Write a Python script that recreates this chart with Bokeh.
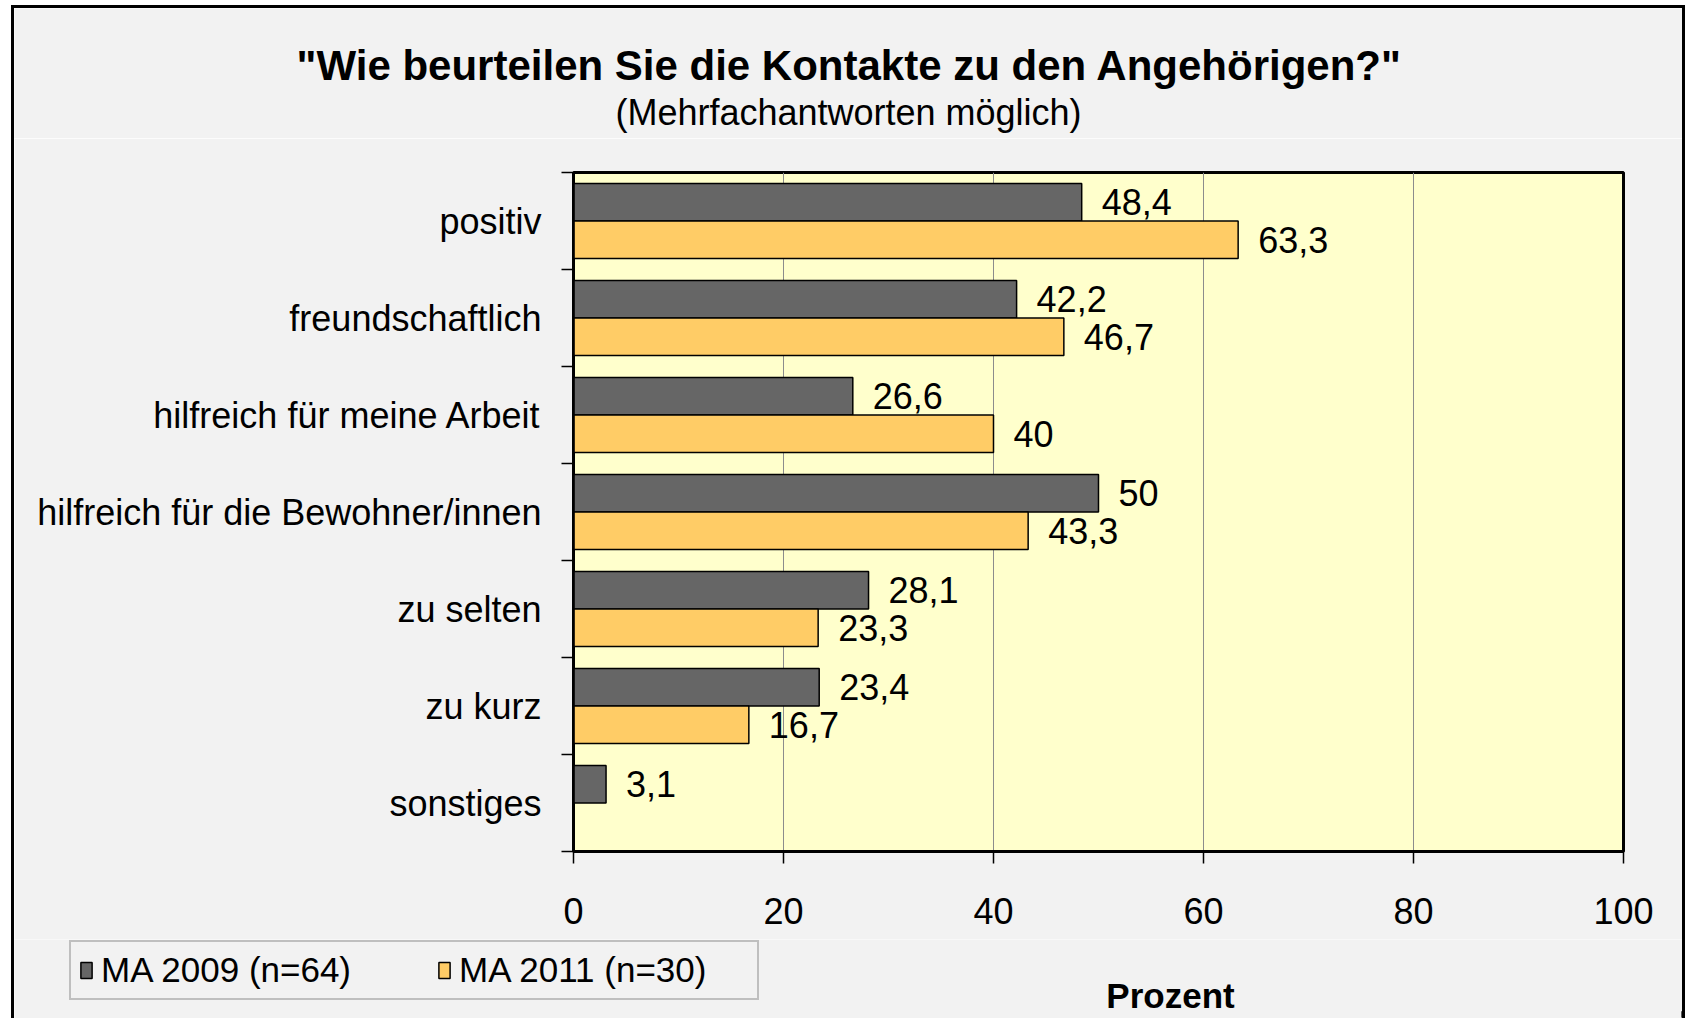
from bokeh.plotting import figure
from bokeh.layouts import column
from bokeh.models import (Range1d, LinearAxis, FixedTicker, Label, Plot,
                          ColumnDataSource, Legend, LegendItem)
from bokeh.transform import dodge
from bokeh.core.properties import value
from bokeh.embed import file_html
from bokeh.resources import INLINE

FONT = "Liberation Sans"

title_text = "\"Wie beurteilen Sie die Kontakte zu den Angehörigen?\""
subtitle_text = "(Mehrfachantworten möglich)"
x_title = "Prozent"
categories = ["positiv", "freundschaftlich", "hilfreich für meine Arbeit",
              "hilfreich für die Bewohner/innen", "zu selten", "zu kurz", "sonstiges"]
ma2009 = [48.4, 42.2, 26.6, 50, 28.1, 23.4, 3.1]
ma2011 = [63.3, 46.7, 40, 43.3, 23.3, 16.7, None]
x_ticks = [0, 20, 40, 60, 80, 100]
series_names = ["MA 2009 (n=64)", "MA 2011 (n=30)"]
series_colors = ["#666666", "#FFCC66"]

n = len(categories)
centres = [n - i - 0.5 for i in range(n)]   # slot centres, top to bottom


def fmt(v):
    return ("%g" % v).replace(".", ",")


src09 = ColumnDataSource(dict(pos=centres, v=ma2009, t=[fmt(v) for v in ma2009]))
p11 = [c for c, v in zip(centres, ma2011) if v is not None]
v11 = [v for v in ma2011 if v is not None]
src11 = ColumnDataSource(dict(pos=p11, v=v11, t=[fmt(v) for v in v11]))

W = 1668
HT, HP, HQ = 130, 801, 79
HAS_FA = "frame_align" in Plot.properties()


def strip(h):
    f = figure(width=W, height=h, x_range=Range1d(0, W), y_range=Range1d(0, h),
               output_backend="svg", toolbar_location=None,
               x_axis_location=None, y_axis_location=None,
               min_border_left=0, min_border_right=0, min_border_top=0, min_border_bottom=0,
               background_fill_color="#F2F2F2", border_fill_color="#F2F2F2",
               outline_line_color=None)
    f.xgrid.visible = False
    f.ygrid.visible = False
    if HAS_FA:
        f.frame_align = False
    return f


# ---- title strip ----
t = strip(HT)
t.add_layout(Label(x=835, y=73, text=title_text, text_align="center", text_baseline="middle",
                   text_font=FONT, text_font_size="42px", text_font_style="bold",
                   text_color="black"))
t.add_layout(Label(x=834, y=26, text=subtitle_text, text_align="center", text_baseline="middle",
                   text_font=FONT, text_font_size="36px", text_color="black"))

# ---- main chart ----
p = figure(width=W, height=HP,
           y_range=Range1d(0, n), x_range=Range1d(0, 100),
           output_backend="svg", toolbar_location=None, y_axis_location=None,
           min_border_left=559, min_border_right=59, min_border_top=34, min_border_bottom=88,
           background_fill_color="#FFFFCC", border_fill_color="#F2F2F2",
           outline_line_color="black", outline_line_width=3)
if HAS_FA:
    p.frame_align = False

tick_axis = LinearAxis(ticker=FixedTicker(ticks=list(range(n + 1))),
                       major_label_text_font_size="0px",
                       major_label_overrides={i: "" for i in range(n + 1)},
                       major_tick_out=12, major_tick_in=0, major_tick_line_width=1.5,
                       minor_tick_line_color=None, axis_line_width=2.5, axis_line_color="black",
                       major_label_standoff=0)
p.add_layout(tick_axis, "left")

label_axis = LinearAxis(ticker=FixedTicker(ticks=centres),
                        major_label_overrides={c: cat for c, cat in zip(centres, categories)},
                        major_tick_line_color=None, minor_tick_line_color=None,
                        axis_line_color=None,
                        major_label_text_font=FONT, major_label_text_font_size="36px",
                        major_label_text_color="black", major_label_standoff=14)
p.add_layout(label_axis, "left")

xa = p.xaxis[0]
xa.ticker = FixedTicker(ticks=x_ticks)
xa.major_tick_out = 12
xa.major_tick_in = 0
xa.major_tick_line_width = 1.5
xa.minor_tick_line_color = None
xa.axis_line_width = 3
xa.major_label_standoff = 34
xa.major_label_text_font = FONT
xa.major_label_text_font_size = "36px"
xa.major_label_text_color = "black"

p.xgrid.grid_line_color = "#8c8c8c"
p.xgrid.grid_line_width = 1
p.xgrid.ticker = FixedTicker(ticks=x_ticks)
p.ygrid.grid_line_color = None

bh = 0.386
p.hbar(y=dodge("pos", bh / 2), right="v", left=0, height=bh, source=src09,
       fill_color=series_colors[0], line_color="black", line_width=1.5)
p.hbar(y=dodge("pos", -bh / 2), right="v", left=0, height=bh, source=src11,
       fill_color=series_colors[1], line_color="black", line_width=1.5)

p.text(x="v", y=dodge("pos", bh / 2), text="t", source=src09, x_offset=20,
       text_baseline="middle", text_align="left", text_font=value(FONT),
       text_font_size=value("36px"), text_color="black")
p.text(x="v", y=dodge("pos", -bh / 2), text="t", source=src11, x_offset=20,
       text_baseline="middle", text_align="left", text_font=value(FONT),
       text_font_size=value("36px"), text_color="black")

# ---- bottom strip: legend and x title ----
q = strip(HQ)
q.extra_x_ranges = {"hidden": Range1d(-2, -1)}   # legend proxies, kept out of view
k09 = q.hbar(y="pos", right="v", left=0, height=1, source=src09, x_range_name="hidden",
             fill_color=series_colors[0], line_color="black", line_width=1.5)
k11 = q.hbar(y="pos", right="v", left=0, height=1, source=src11, x_range_name="hidden",
             fill_color=series_colors[1], line_color="black", line_width=1.5)

legend = Legend(items=[LegendItem(label=series_names[0], renderers=[k09]),
                       LegendItem(label=series_names[1], renderers=[k11])],
                orientation="horizontal", location=(55, 18),
                border_line_color="#8c8c8c", border_line_width=2,
                background_fill_color="#F2F2F2", background_fill_alpha=1,
                padding=8, margin=0, spacing=46, label_standoff=8,
                glyph_width=14, glyph_height=20, label_width=290, label_height=36,
                label_text_font=FONT, label_text_font_size="35px", label_text_color="black")
q.add_layout(legend, "center")
q.add_layout(Label(x=1156, y=23, text=x_title, text_align="center", text_baseline="middle",
                   text_font=FONT, text_font_size="35px", text_font_style="bold",
                   text_color="black"))

layout = column(t, p, q, spacing=0,
                styles={"margin-left": "11px", "margin-top": "5px",
                        "border-left": "3px solid black", "border-top": "3px solid black",
                        "border-right": "3px solid black"})

open("out.html", "w").write(file_html(layout, INLINE))
